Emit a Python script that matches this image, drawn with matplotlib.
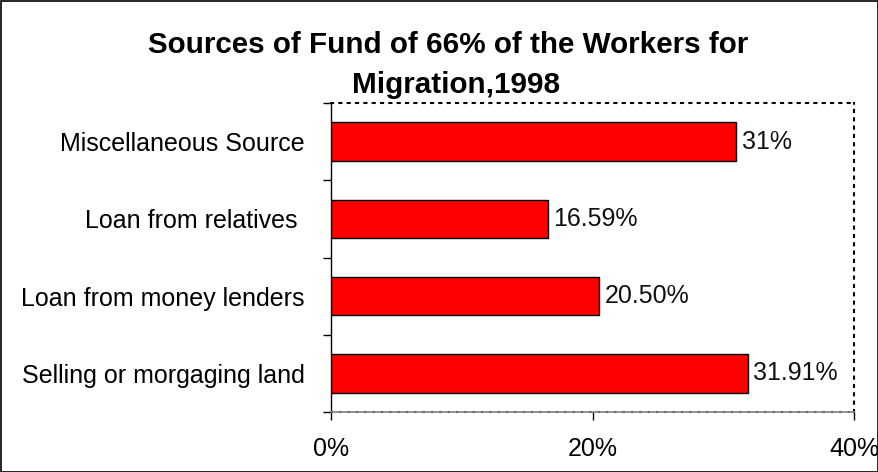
import matplotlib
matplotlib.use("Agg")
import matplotlib.pyplot as plt
from matplotlib.patches import Rectangle

plt.rcParams['font.family'] = ['Liberation Sans', 'DejaVu Sans']

categories = ["Selling or morgaging land", "Loan from money lenders",
              "Loan from relatives ", "Miscellaneous Source"]
values = [31.91, 20.50, 16.59, 31.0]
value_labels = ["31.91%", "20.50%", "16.59%", "31%"]
x_ticks = [0, 20, 40]
x_tick_labels = ["0%", "20%", "40%"]
title_lines = ["Sources of Fund of 66% of the Workers for", "Migration,1998"]

W, H = 879, 472
fig = plt.figure(figsize=(W / 100, H / 100), dpi=100)
fig.patch.set_facecolor('white')
fig.add_artist(Rectangle((0.0006, 0.001), 0.9988, 0.997, transform=fig.transFigure,
                         fill=False, edgecolor='black', linewidth=1.2))

ax = fig.add_axes([331 / W, 1 - 412 / H, (854 - 331) / W, (412 - 103) / H])
y = list(range(len(categories)))
ax.barh(y, values, height=0.5, color='#ff0000', edgecolor='black', linewidth=1.0, zorder=3)
ax.set_xlim(0, 40)
ax.set_ylim(-0.5, len(categories) - 0.5)

for yi, v, lab in zip(y, values, value_labels):
    ax.text(v + 0.4, yi, lab, va='center', ha='left', fontsize=18, color='#111111')

ax.set_xticks(x_ticks)
ax.set_xticklabels(x_tick_labels, fontsize=18)
ax.set_yticks(y)
ax.set_yticklabels(categories, fontsize=18)
ax.tick_params(axis='y', length=0, pad=19)
ax.tick_params(axis='x', length=6, width=1, direction='out', pad=12, color='black')
ax.set_yticks([i - 0.5 for i in range(len(categories) + 1)], minor=True)
ax.tick_params(axis='y', which='minor', length=6, width=1, direction='out', color='black')

dots = (0, (1, 3))
for s in ['top', 'right']:
    ax.spines[s].set_linestyle(dots)
    ax.spines[s].set_linewidth(1.5)
    ax.spines[s].set_color('black')
ax.spines['left'].set_color('black')
ax.spines['left'].set_linewidth(1.0)
ax.spines['bottom'].set_color('#808080')
ax.spines['bottom'].set_linewidth(1.2)
ax.axhline(-0.5 + 0.006, color='black', linestyle=dots, linewidth=1.5, zorder=2, clip_on=False)

fig.text(448 / W, 1 - 53 / H, title_lines[0], ha='center', va='baseline',
         fontsize=21.3, fontweight='bold')
fig.text(456 / W, 1 - 93 / H, title_lines[1], ha='center', va='baseline',
         fontsize=21.3, fontweight='bold')

fig.savefig('out.png', dpi=100)
